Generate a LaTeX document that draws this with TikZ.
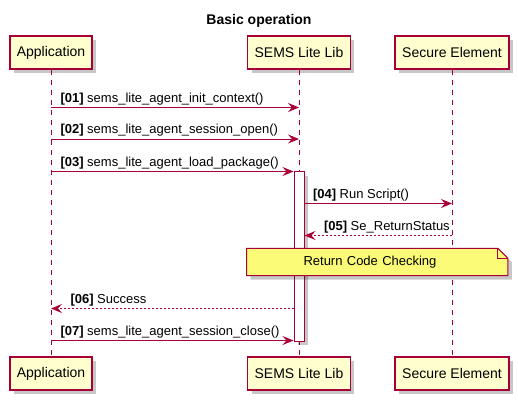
\documentclass[tikz,border=0pt]{standalone}
\usepackage{fontspec}
\setmainfont{Liberation Sans}
\usetikzlibrary{arrows.meta, positioning, calc, shadows}
\definecolor{umlred}{HTML}{A80036}
\definecolor{umlbox}{HTML}{FEFECE}
\definecolor{umlnote}{HTML}{FBFB77}

\begin{document}
\begin{tikzpicture}[
        x=1pt, y=-1pt,
        umlshadow/.style={drop shadow={shadow xshift=4pt, shadow yshift=-4pt, fill=black, opacity=0.22}},
        actor/.style={rectangle, draw=umlred, line width=1.5pt, fill=umlbox, minimum height=33pt, inner xsep=7pt, font=\fontsize{14}{16}\selectfont, umlshadow},
        lifeline/.style={umlred, line width=1pt, dash pattern=on 5pt off 5pt},
        activation/.style={rectangle, draw=umlred, line width=1pt, fill=white, minimum width=10pt, minimum height=169.5pt, inner sep=0pt, umlshadow},
        msg/.style={-{Stealth[length=11pt, width=9pt, inset=4pt]}, umlred, line width=1pt},
        reply/.style={msg, dash pattern=on 2pt off 2pt},
        msgtext/.style={anchor=base west, yshift=5.5pt, inner sep=0pt, text=black, font=\fontsize{13}{15}\selectfont},
        notetext/.style={rectangle, inner xsep=0pt, text width=246.6pt, align=center, minimum height=27pt, font=\fontsize{13}{15}\selectfont},
        noteframe/.style={draw=umlred, line width=1pt, fill=umlnote, umlshadow}
    ]
    \useasboundingbox (0,0) rectangle (518,400);

    % Title
    \node[font=\bfseries\fontsize{14}{16}\selectfont] (title) at (259,21) {Basic operation};

    % Participants
    \node[actor] (app) at (51,52.5) {Application};
    \node[actor] (lib) at (299,52.5) {SEMS Lite Lib};
    \node[actor] (se) at (452,52.5) {Secure Element};

    \node[actor] (appB) at (51,373.5) {Application};
    \node[actor] (libB) at (299,373.5) {SEMS Lite Lib};
    \node[actor] (seB) at (452,373.5) {Secure Element};

    % Lifelines
    \draw[lifeline] (app) -- (appB);
    \draw[lifeline] (lib) -- (libB);
    \draw[lifeline] (se) -- (seB);

    \node[activation] (act) at (299,256.5) {};

    % Messages
    \draw[msg] (app |- 0,107.5) -- (lib |- 0,107.5) node[pos=0, msgtext, xshift=9pt] {\textbf{[01]} sems\_lite\_agent\_init\_context()};
    \draw[msg] (app |- 0,139) -- (lib |- 0,139) node[pos=0, msgtext, xshift=9pt] {\textbf{[02]} sems\_lite\_agent\_session\_open()};
    \draw[msg] (app |- 0,171.5) -- (act.west |- 0,171.5) node[pos=0, msgtext, xshift=9pt] {\textbf{[03]} sems\_lite\_agent\_load\_package()};
    \draw[msg] (act.east |- 0,203.5) -- (se |- 0,203.5) node[pos=0, msgtext, xshift=8pt] {\textbf{[04]} Run Script()};
    \draw[reply] (se |- 0,235.5) -- (act.east |- 0,235.5) node[pos=1, msgtext, xshift=19pt] {\textbf{[05]} Se\_ReturnStatus};

    % Note
    \node[notetext] (chk) at (370,262) {};
    \draw[noteframe] (chk.south west) -- (chk.north west) -- ($(chk.north east)+(4.4,0)$) -- ($(chk.north east)+(14.4,10)$) -- ($(chk.south east)+(14.4,0)$) -- cycle;
    \draw[umlred, line width=1pt] ($(chk.north east)+(4.4,0)$) -- ++(0,10) -- ++(10,0);
    \node[notetext] at (chk) {Return Code Checking};

    \draw[reply] (act.west |- 0,308.5) -- (app |- 0,308.5) node[pos=1, msgtext, xshift=19pt] {\textbf{[06]} Success};
    \draw[msg] (app |- 0,340.5) -- (act.west |- 0,340.5) node[pos=0, msgtext, xshift=9pt] {\textbf{[07]} sems\_lite\_agent\_session\_close()};

\end{tikzpicture}
\end{document}
